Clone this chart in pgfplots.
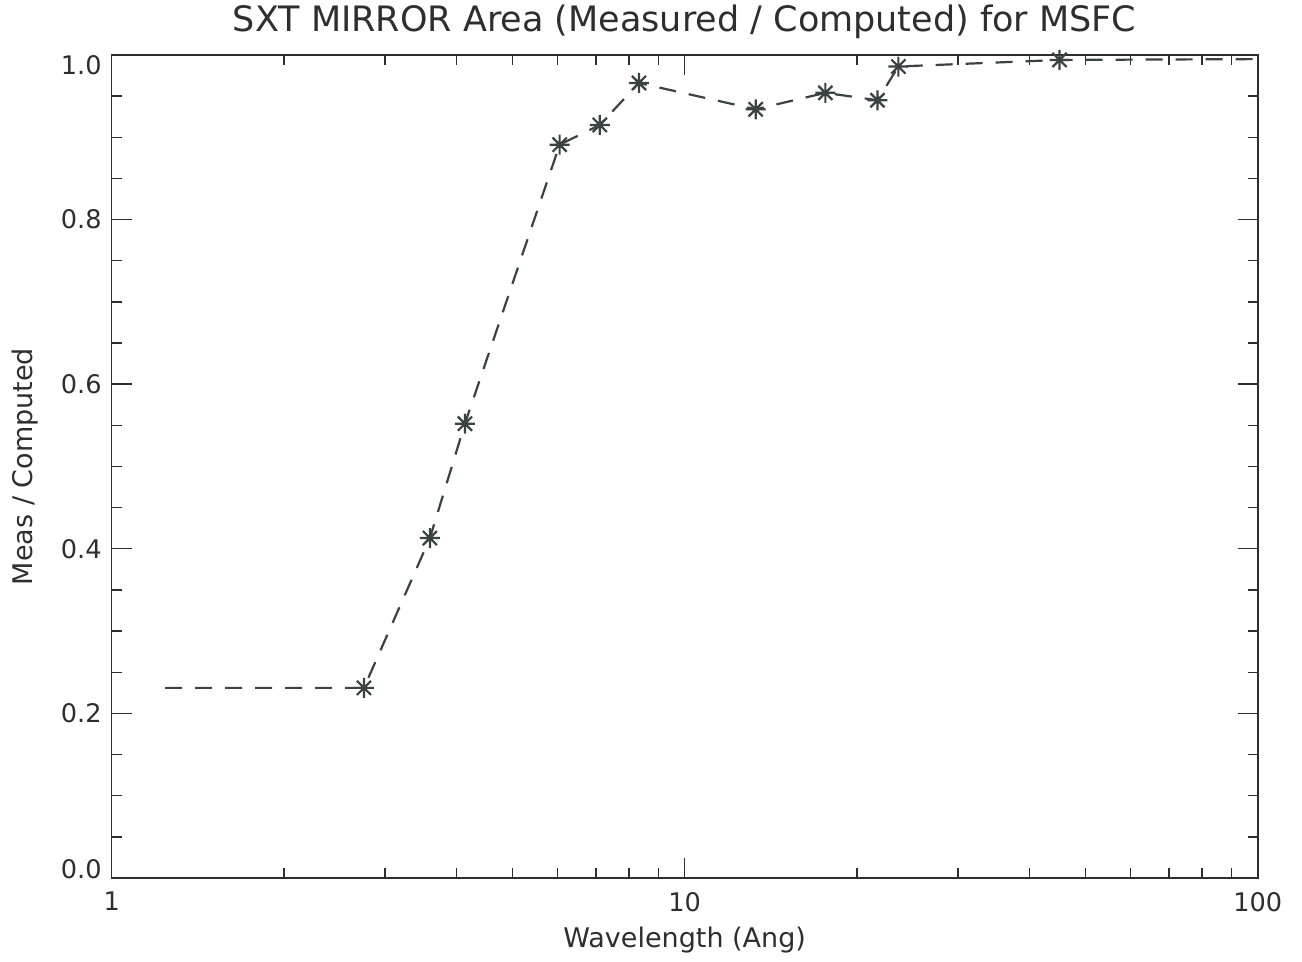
\documentclass[border=0pt]{standalone}
\usepackage{fontspec}
\setmainfont{DejaVu Sans}
\usepackage{pgfplots}
\pgfplotsset{compat=1.18}
\definecolor{ink}{HTML}{3A4242}
\definecolor{frame}{HTML}{2E2E2E}

% eight-armed asterisk, like the IDL psym=2 symbol
\pgfdeclareplotmark{ast8}{%
  \pgfpathmoveto{\pgfqpoint{-\pgfplotmarksize}{0pt}}%
  \pgfpathlineto{\pgfqpoint{\pgfplotmarksize}{0pt}}%
  \pgfpathmoveto{\pgfqpoint{0pt}{-\pgfplotmarksize}}%
  \pgfpathlineto{\pgfqpoint{0pt}{\pgfplotmarksize}}%
  \pgfpathmoveto{\pgfqpoint{-0.707\pgfplotmarksize}{-0.707\pgfplotmarksize}}%
  \pgfpathlineto{\pgfqpoint{0.707\pgfplotmarksize}{0.707\pgfplotmarksize}}%
  \pgfpathmoveto{\pgfqpoint{-0.707\pgfplotmarksize}{0.707\pgfplotmarksize}}%
  \pgfpathlineto{\pgfqpoint{0.707\pgfplotmarksize}{-0.707\pgfplotmarksize}}%
  \pgfusepathqstroke}

\begin{document}
\begin{tikzpicture}
\begin{axis}[
  at={(55.85pt,42pt)}, anchor=south west,
  scale only axis, width=573pt, height=411.5pt,
  xmode=log, xmin=1, xmax=100, ymin=0, ymax=1,
  xtick={1,10,100}, xticklabels={1,10,100},
  ytick={0,0.2,0.4,0.6,0.8,1},
  yticklabels={\raisebox{4.5pt}[\height][\depth]{0.0},0.2,0.4,0.6,0.8,\raisebox{-5pt}[\height][\depth]{1.0}},
  minor ytick={0.05,0.1,0.15,0.25,0.3,0.35,0.45,0.5,0.55,0.65,0.7,0.75,0.85,0.9,0.95},
  tick align=inside,
  major tick length=10pt, minor tick length=5pt,
  axis line style={line width=0.8pt, frame},
  tick style={line width=0.7pt, frame},
  tick label style={font=\fontsize{12.8}{14}\selectfont, frame},
  xticklabel style={yshift=-3.5pt},
  yticklabel style={xshift=-1.5pt},
  xlabel={Wavelength (Ang)},
  ylabel={Meas / Computed},
  every axis x label/.style={at={(axis description cs:0.5,-0.085)}, anchor=base,
    font=\fontsize{13.5}{16}\selectfont, text=frame},
  every axis y label/.style={at={(axis description cs:-0.0757,0.5)}, rotate=90, anchor=center,
    font=\fontsize{13.5}{16}\selectfont, text=frame},
  title={SXT MIRROR Area (Measured / Computed) for MSFC},
  title style={at={(axis description cs:0.5,1.0134)}, anchor=base,
    font=\fontsize{17.5}{20}\selectfont, text=frame},
]
% dashed trace through all points
\addplot[ink, line width=1.1pt, dash pattern=on 8.5pt off 6.5pt] coordinates {
  (1.239,0.231) (2.756,0.231) (3.592,0.413) (4.135,0.552) (6.05,0.891)
  (7.11,0.915) (8.32,0.966) (13.3,0.934) (17.6,0.954) (21.7,0.945)
  (23.6,0.986) (45.1,0.994) (100,0.995)};
% measured points
\addplot[ink, only marks, mark=ast8, mark size=5pt,
  mark options={line width=1.1pt}] coordinates {
  (2.756,0.231) (3.592,0.413) (4.135,0.552) (6.05,0.891)
  (7.11,0.915) (8.32,0.966) (13.3,0.934) (17.6,0.954) (21.7,0.945)
  (23.6,0.986) (45.1,0.994)};
\end{axis}
\pgfresetboundingbox
\path[use as bounding box] (0,0) rectangle (651pt,481pt);
\end{tikzpicture}
\end{document}
